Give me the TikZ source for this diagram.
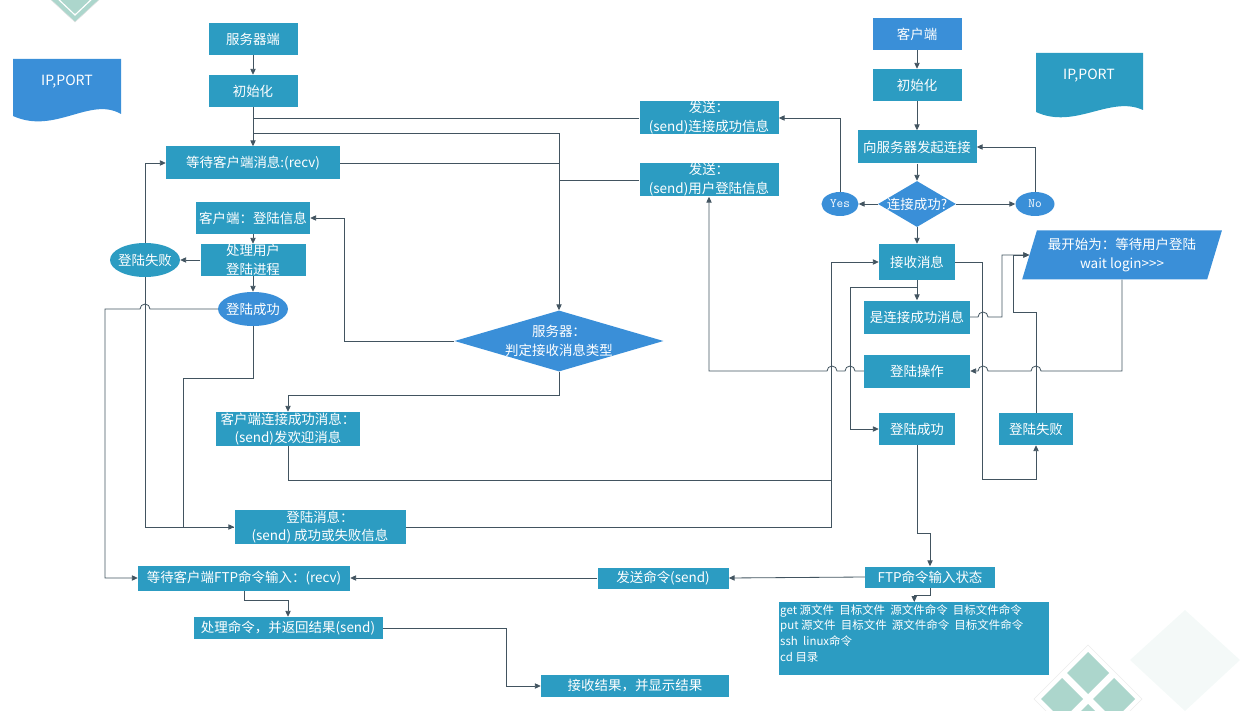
\documentclass[tikz,border=0pt]{standalone}
\usepackage{fontspec}
\setmainfont{Noto Sans CJK SC}
\usetikzlibrary{shapes.geometric,arrows.meta}
\definecolor{boxteal}{RGB}{44,156,194}
\definecolor{boxblue}{RGB}{58,143,216}
\definecolor{linegray}{RGB}{66,84,96}
\definecolor{decoteal}{RGB}{172,214,204}
\definecolor{decofaint}{RGB}{244,249,248}
\begin{document}
\begin{tikzpicture}
  [x=0.03cm, y=-0.03cm, font=\fontsize{11.5}{16}\selectfont,
   sz/.style 2 args={minimum width=#1*0.03cm, minimum height=#2*0.03cm},
   box/.style={rectangle, fill=boxteal, text=white, inner sep=0pt, align=center},
   bbox/.style={box, fill=boxblue},
   oval/.style={ellipse, fill=boxblue, text=white, inner xsep=-3pt, inner ysep=0pt},
   dia/.style={diamond, fill=boxblue, inner sep=0pt},
   para/.style={trapezium, trapezium left angle=69, trapezium right angle=111,
     trapezium stretches=true, fill=boxblue, text=white, align=center, inner sep=0pt},
   txt/.style={text=white, inner sep=0pt, align=center},
   link/.style={draw=linegray, line width=0.7pt},
   arr/.style={link, -{Triangle[length=5pt,width=4.5pt]}}]
  \useasboundingbox (0,0) rectangle (1240,711);

  % background decoration
  \draw[gray!25, fill=decoteal] (75,-30) -- (102,-3) -- (75,22) -- (48,-3) -- cycle;
  \draw[white, line width=1pt] (75,-22) -- (94,-3) -- (75,15) -- (56,-3) -- cycle;
  \fill[decofaint] (1185,610) -- (1240,660) -- (1185,711) -- (1130,660) -- cycle;
  \draw[gray!15, fill=white] (1088,645) -- (1142,699) -- (1088,753) -- (1034,699) -- cycle;
  \foreach \cx/\cy in {1088/673, 1062/699, 1114/699, 1088/725}
    \fill[decoteal] (\cx,\cy-21) -- (\cx+21,\cy) -- (\cx,\cy+21) -- (\cx-21,\cy) -- cycle;

  % document shapes
  \fill[boxblue] (13,59) -- (121,59) -- (121,114) .. controls (90,96) and (55,135) .. (13,116) -- cycle;
  \node[txt, font=\fontsize{12}{14}\selectfont] (ipleft) at (67,82) {IP,PORT};
  \fill[boxteal] (1036,53) -- (1143,53) -- (1143,110) .. controls (1110,95) and (1075,130) .. (1036,112) -- cycle;
  \node[txt, font=\fontsize{12}{14}\selectfont] (ipright) at (1089,76) {IP,PORT};

  % server side
  \node[box, sz={89}{32}] (srv) at (253,39) {服务器端};
  \node[box, sz={89}{32}] (sinit) at (253,91) {初始化};
  \node[box, sz={174}{33}] (swait) at (253,163) {等待客户端消息:(recv)};
  \node[box, sz={114}{32}] (cinfo) at (253,218) {客户端：登陆信息};
  \node[box, sz={105}{32}] (proc) at (253,260) {处理用户\\登陆进程};
  \node[oval, sz={70}{34}, fill=boxteal] (sfail) at (145,260) {登陆失败};
  \node[oval, sz={70}{34}] (ssucc) at (253,309) {登陆成功};
  \node[dia, sz={209}{61}] (judge) at (559,341) {};
  \node[txt] (judgetxt) at (judge) {服务器：\\判定接收消息类型};
  \node[box, sz={144}{34}] (welcome) at (288,429) {客户端连接成功消息：\\(send)发欢迎消息};
  \node[box, sz={171}{34}] (lmsg) at (320,527) {登陆消息：\\(send) 成功或失败信息};
  \node[box, sz={212}{25}] (ftpwait) at (244,578) {等待客户端FTP命令输入：(recv)};
  \node[box, sz={189}{22}] (handle) at (288,628) {处理命令，并返回结果(send)};
  \node[box, sz={188}{22}] (showres) at (635,686) {接收结果，并显示结果};
  \node[box, sz={131}{21}] (sendcmd) at (663,578) {发送命令(send)};
  \node[box, sz={139}{33}] (sendok) at (709,118) {发送：\\(send)连接成功信息};
  \node[box, sz={139}{33}] (sendlog) at (709,180) {发送：\\(send)用户登陆信息};

  % client side
  \node[bbox, sz={89}{32}] (cli) at (917,34) {客户端};
  \node[box, sz={89}{32}] (cinit) at (917,85) {初始化};
  \node[box, sz={119}{33}] (conn) at (917,147) {向服务器发起连接};
  \node[dia, sz={78}{46}] (isok) at (917,204) {};
  \node[txt] (isoktxt) at (isok) {连接成功?};
  \node[oval, sz={37}{24}, font=\ttfamily\fontsize{11}{13}\selectfont] (yes) at (840,204) {Yes};
  \node[oval, sz={39}{24}, font=\ttfamily\fontsize{11}{13}\selectfont] (no) at (1035,204) {No};
  \node[box, sz={76}{36}] (recv) at (917,262) {接收消息};
  \node[box, sz={106}{33}] (isconn) at (917,317) {是连接成功消息};
  \node[box, sz={106}{33}] (logop) at (917,371) {登陆操作};
  \node[box, sz={76}{32}] (csucc) at (917,429) {登陆成功};
  \node[box, sz={74}{32}] (cfail) at (1036,429) {登陆失败};
  \node[para, sz={200}{49}] (waitlog) at (1122,255) {最开始为：等待用户登陆\\wait login{>}{>}{>}};
  \node[box, sz={130}{21}] (ftpst) at (930,577) {FTP命令输入状态};
  \node[box, sz={270}{73}, anchor=north west] (cmds) at (779,602) {};
  \node[txt, align=left, anchor=north west, font=\fontsize{9.8}{13.6}\selectfont] (cmdtxt) at (780,604)
    {get 源文件\ \ 目标文件\ \ 源文件命令\ \ 目标文件命令\\put 源文件\ \ 目标文件\ \ 源文件命令\ \ 目标文件命令\\ssh\ \ linux命令\\cd 目录};

  % server connectors
  \coordinate (jn) at (judge.north |- 0,133);
  \draw[arr] (srv) -- (sinit);
  \draw[arr] (sinit) -- (swait);
  \draw[link] (sendok.west) -- (sinit.south |- sendok.west);
  \draw[link] (sinit.south |- jn) -- (jn) -- (jn |- swait.east);
  \draw[arr] (swait.east) -| (judge.north);
  \draw[link] (sendlog.west) -- (judge.north |- sendlog.west);
  \draw[arr] (judge.west) -- ++(-110,0) |- (cinfo.east);
  \draw[arr] (judge.south) -- ++(0,24) -| (welcome.north);
  \draw[arr] (cinfo) -- (proc);
  \draw[arr] (proc) -- (sfail);
  \draw[arr] (proc) -- (ssucc);
  \draw[arr] (sfail.north) |- (swait.west);
  \draw[arr] (sfail.south) |- (lmsg.west);
  \draw[link] (ssucc.south) |- ++(-70,52) |- (lmsg.west);
  \draw[arr] (ssucc.west) -- (150,309) arc[start angle=0,end angle=180,radius=0.15cm] -- (105,309) |- (ftpwait.west);
  \draw[arr] (ftpwait.south) -- ++(0,10) -| (handle.north);
  \draw[arr] (handle.east) -- ++(124,0) |- (showres.west);
  \draw[arr] (sendcmd.west) -- (ftpwait.east);
  \draw[arr] (ftpst.west) -- (sendcmd.east);
  \draw[arr] (ftpst.south) -- ++(0,8) -| (cmds.north);
  \draw[arr] (lmsg.east) -- ++(426,0) |- (recv.west);
  \draw[link] (welcome.south) |- ++(544,34);

  % client connectors
  \draw[arr] (cli) -- (cinit);
  \draw[arr] (cinit) -- (conn);
  \draw[arr] (conn) -- (isok);
  \draw[arr] (isok) -- (yes);
  \draw[arr] (isok) -- (no);
  \draw[arr] (isok) -- (recv);
  \draw[arr] (yes.north) |- (sendok.east);
  \draw[arr] (no.north) |- (conn.east);
  \draw[arr] (recv) -- (isconn);
  \draw[arr] (recv.south) ++(0,7) -- ++(-67,0) |- (csucc.west);
  \draw[arr] (recv.east) -| ++(27,217) -| (cfail.south);
  \draw[arr] (isconn.east) -- (978,317) arc[start angle=180,end angle=0,radius=0.15cm] -- (1002,317) |- (waitlog.west);
  \draw[arr] (cfail.north) -- ++(0,-100) -- ++(-23,0) |- (waitlog.west);
  \draw[arr] (waitlog.south -| waitlog.center) |- (1041,371) arc[start angle=0,end angle=180,radius=0.15cm]
    -- (988,371) arc[start angle=0,end angle=180,radius=0.15cm] -- (logop.east);
  \draw[arr] (logop.west) -- (855,371) arc[start angle=0,end angle=180,radius=0.15cm]
    -- (837,371) arc[start angle=0,end angle=180,radius=0.15cm] -| (sendlog.south);
  \draw[arr] (csucc.south) -- ++(0,88) -| (ftpst.north);
\end{tikzpicture}
\end{document}
